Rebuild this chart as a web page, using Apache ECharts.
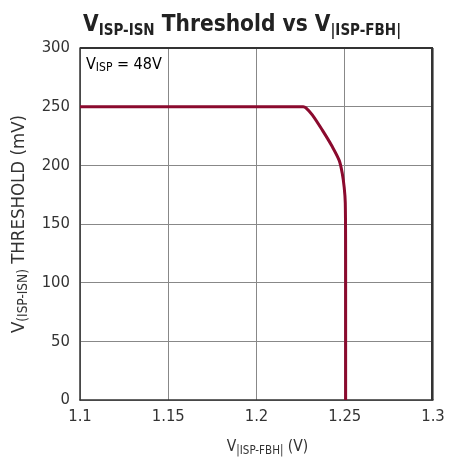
<!DOCTYPE html>
<html>
<head>
<meta charset="utf-8">
<script src="https://cdn.jsdelivr.net/npm/echarts@6/dist/echarts.min.js"></script>
<style>
  html, body { margin: 0; padding: 0; background: #fff; }
  #chart { width: 463px; height: 463px; }
</style>
</head>
<body>
<div id="chart"></div>
<script>
// curve: V|ISP-FBH| (V) vs threshold (mV)
const vFbh = [1.1, 1.2265, 1.228, 1.2316, 1.2373, 1.2429, 1.2469, 1.2486, 1.2497, 1.2503, 1.2505, 1.2505];
const threshold = [250, 250, 249, 243, 230, 216, 204, 193, 181, 168, 120, 0];
const xTicks = [1.1, 1.15, 1.2, 1.25, 1.3];
const yTicks = [0, 50, 100, 150, 200, 250, 300];

const font = '"DejaVu Sans Condensed", "Liberation Sans Narrow", sans-serif';
const chart = echarts.init(document.getElementById('chart'));

chart.setOption({
  animation: false,
  title: {
    text: '{b|V}{s|ISP-ISN}{b| Threshold vs V}{s||ISP-FBH|}',
    left: 78,
    top: 6,
    textStyle: {
      rich: {
        b: { fontFamily: font, fontSize: 22.5, fontWeight: 'bold', color: '#222' },
        s: { fontFamily: font, fontSize: 15, fontWeight: 'bold', color: '#222', padding: [13, 0, 0, 0] }
      }
    }
  },
  grid: { left: 80, right: 30, top: 48, bottom: 63 },
  xAxis: {
    type: 'value',
    min: xTicks[0],
    max: xTicks[xTicks.length - 1],
    interval: 0.05,
    name: '{n|V}{s||ISP-FBH|}{n| (V)}',
    nameLocation: 'middle',
    nameGap: 37,
    nameTextStyle: {
      padding: [0, 0, 0, 22],
      rich: {
        n: { fontFamily: font, fontSize: 15.5, color: '#333' },
        s: { fontFamily: font, fontSize: 11.5, color: '#333', padding: [8, 0, 0, 0] }
      }
    },
    axisLine: { lineStyle: { color: '#333', width: 1.5 } },
    axisTick: { show: false },
    axisLabel: {
      fontFamily: font, fontSize: 16.5, color: '#333', margin: 8,
      formatter: v => String(+v.toFixed(2))
    },
    splitLine: { lineStyle: { color: '#888', width: 1 } }
  },
  yAxis: {
    type: 'value',
    min: yTicks[0],
    max: yTicks[yTicks.length - 1],
    interval: 50,
    name: '{n|V}{s|(ISP-ISN)}{n| THRESHOLD (mV)}',
    nameLocation: 'middle',
    nameGap: 42,
    nameTextStyle: {
      rich: {
        n: { fontFamily: font, fontSize: 18.5, color: '#333' },
        s: { fontFamily: font, fontSize: 13.5, color: '#333', padding: [9, 0, 0, 0] }
      }
    },
    axisLine: { show: true, lineStyle: { color: '#333', width: 1.5 } },
    axisTick: { show: false },
    axisLabel: { fontFamily: font, fontSize: 16.5, color: '#333', margin: 10 },
    splitLine: { lineStyle: { color: '#888', width: 1 } }
  },
  graphic: [
    { type: 'rect', shape: { x: 431, y: 48, width: 2, height: 352 }, style: { fill: '#333' }, z: 10 },
    { type: 'rect', shape: { x: 80, y: 47, width: 353, height: 2 }, style: { fill: '#333' }, z: 10 },
    {
      type: 'text', left: 85, top: 54, z: 10,
      style: {
        text: '{n|V}{s|ISP}{n| = 48V}',
        backgroundColor: '#fff',
        padding: [1, 2, 1, 1],
        rich: {
          n: { fontFamily: font, fontSize: 16, color: '#333' },
          s: { fontFamily: font, fontSize: 12, color: '#333', padding: [7, 0, 0, 0] }
        }
      }
    }
  ],
  series: [{
    type: 'line',
    data: vFbh.map((x, i) => [x, threshold[i]]),
    smooth: 0.3,
    showSymbol: false,
    lineStyle: { color: '#8b0a2e', width: 3 },
    z: 5
  }]
});
</script>
</body>
</html>
